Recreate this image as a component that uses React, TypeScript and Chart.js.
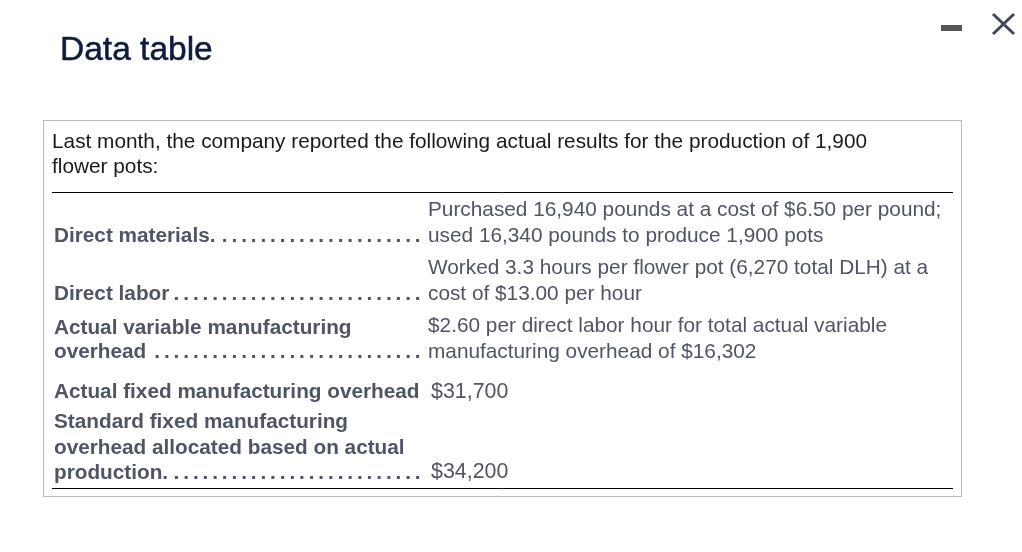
import { useEffect, useRef } from 'react';
import { Chart, registerables } from 'chart.js';

Chart.register(...registerables);

const titleText = 'Data table';
const introLines = [
  'Last month, the company reported the following actual results for the production of 1,900',
  'flower pots:',
];
const labelLines = [
  'Direct materials.',
  'Direct labor',
  'Actual variable manufacturing',
  'overhead',
  'Actual fixed manufacturing overhead',
  'Standard fixed manufacturing',
  'overhead allocated based on actual',
  'production.',
];
const detailLines = [
  'Purchased 16,940 pounds at a cost of $6.50 per pound;',
  'used 16,340 pounds to produce 1,900 pots',
  'Worked 3.3 hours per flower pot (6,270 total DLH) at a',
  'cost of $13.00 per hour',
  '$2.60 per direct labor hour for total actual variable',
  'manufacturing overhead of $16,302',
  '$31,700',
  '$34,200',
];

// layout
const FONT = '"Liberation Sans", Arial, sans-serif';
const introY = [148, 173];
const labelY = [242, 300, 334, 358, 398, 428, 454, 479];
const detailY = [216, 242, 274, 300, 332, 358, 398, 478];
const detailX = [428, 428, 428, 428, 428, 428, 431, 431];
const detailSize = [20.8, 20.8, 20.8, 20.8, 20.8, 20.8, 21.4, 21.4];
const leaderRows = [0, 1, 3, 7];
const DOT_STEP = 9.65;
const DOT_END = 424.5;

const tablePlugin = {
  id: 'dataTable',
  afterDraw(chart: Chart) {
    const { ctx, scales } = chart;
    const px = (v: number) => scales.x.getPixelForValue(v);
    const py = (v: number) => scales.y.getPixelForValue(v);

    ctx.save();
    ctx.textBaseline = 'alphabetic';
    ctx.textAlign = 'left';

    ctx.fillStyle = '#0f1b3d';
    ctx.strokeStyle = '#0f1b3d';
    ctx.lineWidth = 0.5;
    ctx.font = `33.5px ${FONT}`;
    ctx.fillText(titleText, px(60), py(60));
    ctx.strokeText(titleText, px(60), py(60));

    // window buttons
    ctx.fillStyle = '#555555';
    ctx.fillRect(px(941), py(25), 21, 6);
    ctx.strokeStyle = '#3d4a5c';
    ctx.lineWidth = 3;
    ctx.beginPath();
    ctx.moveTo(px(993), py(14));
    ctx.lineTo(px(1014), py(34));
    ctx.moveTo(px(1014), py(14));
    ctx.lineTo(px(993), py(34));
    ctx.stroke();

    // frame and rules
    ctx.strokeStyle = '#bcbcbc';
    ctx.lineWidth = 1;
    ctx.strokeRect(px(43.5), py(120.5), 918, 376);
    ctx.strokeStyle = '#000000';
    [192.5, 488.5].forEach(y => {
      ctx.beginPath();
      ctx.moveTo(px(52), py(y));
      ctx.lineTo(px(953), py(y));
      ctx.stroke();
    });

    ctx.fillStyle = '#1a1a1a';
    ctx.font = `20.8px ${FONT}`;
    introLines.forEach((line, i) => ctx.fillText(line, px(52), py(introY[i])));

    ctx.fillStyle = '#4f5564';
    ctx.font = `bold 20.75px ${FONT}`;
    labelLines.forEach((line, i) => {
      ctx.fillText(line, px(54), py(labelY[i]));
      if (leaderRows.includes(i)) {
        const start = 54 + ctx.measureText(line).width + 2;
        const count = Math.floor((DOT_END - start) / DOT_STEP);
        const dotWidth = ctx.measureText('.').width;
        (ctx as any).letterSpacing = `${DOT_STEP - dotWidth}px`;
        ctx.fillText('.'.repeat(count), px(DOT_END - count * DOT_STEP), py(labelY[i]));
        (ctx as any).letterSpacing = '0px';
      }
    });

    detailLines.forEach((line, i) => {
      ctx.font = `${detailSize[i]}px ${FONT}`;
      ctx.fillText(line, px(detailX[i]), py(detailY[i]));
    });
    ctx.restore();
  },
};

export default function App() {
  const canvasRef = useRef<HTMLCanvasElement>(null);

  useEffect(() => {
    if (!canvasRef.current) return;
    const chart = new Chart(canvasRef.current, {
      type: 'scatter',
      data: { datasets: [] },
      options: {
        animation: false,
        responsive: false,
        devicePixelRatio: 1,
        layout: { padding: 0 },
        plugins: { legend: { display: false }, title: { display: false }, tooltip: { enabled: false } },
        scales: {
          x: { type: 'linear', min: 0, max: 1022, display: false },
          y: { type: 'linear', min: 0, max: 552, reverse: true, display: false },
        },
      },
      plugins: [tablePlugin],
    });
    return () => chart.destroy();
  }, []);

  return (
    <div style={{ position: 'fixed', left: 0, top: 0, background: '#fff' }}>
      <canvas ref={canvasRef} width={1022} height={552} style={{ display: 'block' }} />
    </div>
  );
}
